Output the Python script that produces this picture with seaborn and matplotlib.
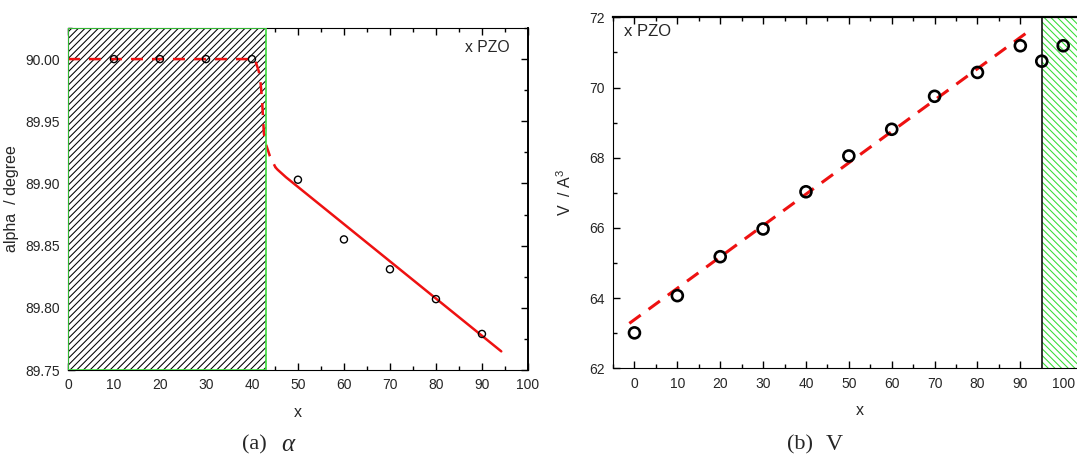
import numpy as np
import pandas as pd
import matplotlib
matplotlib.use("Agg")
import matplotlib.pyplot as plt
import seaborn as sns
from matplotlib.ticker import MultipleLocator

# (a) alpha vs x PZO
alpha_x = [10, 20, 30, 40, 50, 60, 70, 80, 90]
alpha_y = [90.000, 90.000, 90.000, 90.000, 89.903, 89.855, 89.831, 89.807, 89.779]
alpha_dash_x = [0, 40, 40.7, 41.5, 41.9, 42.2, 42.4, 42.6, 43.0, 43.9, 45.1]
alpha_dash_y = [90.000, 90.000, 89.999, 89.990, 89.980, 89.967, 89.953, 89.940, 89.932, 89.922, 89.913]
alpha_solid_x = [45.1, 45.6, 47.4, 94.2]
alpha_solid_y = [89.913, 89.911, 89.905, 89.765]
alpha_hatch = (0, 43)

# (b) V vs x PZO
vol_x = [0, 10, 20, 30, 40, 50, 60, 70, 80, 90, 95, 100]
vol_y = [63.01, 64.07, 65.18, 65.97, 67.03, 68.05, 68.81, 69.75, 70.43, 71.19, 70.75, 71.19]
vol_fit_x = [-1.2, 92.7]
vol_fit_y = [63.28, 71.67]
vol_hatch = (95, 110)

sns.set_style("ticks")
plt.rcParams['font.family'] = ['Liberation Sans', 'DejaVu Sans']
plt.rcParams['mathtext.fontset'] = 'custom'
plt.rcParams['mathtext.rm'] = 'Liberation Sans'
plt.rcParams['hatch.linewidth'] = 0.75

fig = plt.figure(figsize=(10.77, 4.62), dpi=100)
ax1 = fig.add_axes([0.0631, 0.1991, 0.4271, 0.7403])
ax2 = fig.add_axes([0.5692, 0.2028, 0.4578, 0.7597])

# ---- panel (a)
ax1.axvspan(*alpha_hatch, facecolor='white', edgecolor='black', hatch='/////', lw=0, zorder=1)
ax1.axvspan(*alpha_hatch, facecolor='none', edgecolor='#3ddc3d', lw=1.2, zorder=3)

sns.lineplot(x=alpha_dash_x, y=alpha_dash_y, ax=ax1, color='#ee1111', lw=1.8, sort=False)
ax1.lines[-1].set_dashes((4.8, 3.6))
sns.lineplot(x=alpha_solid_x, y=alpha_solid_y, ax=ax1, color='#ee1111', lw=1.8, sort=False)
sns.scatterplot(x=alpha_x, y=alpha_y, ax=ax1, marker='o', s=26, facecolor='none',
                edgecolor='black', linewidth=1.0, zorder=4)

ax1.set_xlim(0, 100)
ax1.set_ylim(89.75, 90.025)
ax1.xaxis.set_major_locator(MultipleLocator(10))
ax1.xaxis.set_minor_locator(MultipleLocator(5))
ax1.yaxis.set_minor_locator(MultipleLocator(0.025))
ax1.set_yticks([89.75, 89.80, 89.85, 89.90, 89.95, 90.00])
ax1.set_yticklabels(['89.75', '89.80', '89.85', '89.90', '89.95', '90.00'])
ax1.set_xlabel('x', fontsize=11.5, labelpad=9)
ax1.set_ylabel('alpha  / degree', fontsize=11.5, labelpad=4)
ax1.text(0.961, 0.942, 'x PZO', transform=ax1.transAxes, ha='right', va='center', fontsize=11.3)
ax1.spines['right'].set_linewidth(1.4)

# ---- panel (b)
ax2.axvspan(*vol_hatch, facecolor='white', edgecolor='#33dd33', hatch='\\\\\\\\\\', lw=0, zorder=1)
ax2.axvline(vol_hatch[0], color='black', lw=1.1, zorder=2)

sns.lineplot(x=vol_fit_x, y=vol_fit_y, ax=ax2, color='#ee1111', lw=2.2, sort=False)
ax2.lines[-1].set_dashes((4.6, 3.2))
sns.scatterplot(x=vol_x, y=vol_y, ax=ax2, marker='o', s=62, facecolor='none',
                edgecolor='black', linewidth=1.9, zorder=4)

ax2.set_xlim(-5, 110)
ax2.set_ylim(62, 72)
ax2.set_xticks([0, 10, 20, 30, 40, 50, 60, 70, 80, 90, 100])
ax2.xaxis.set_minor_locator(MultipleLocator(5))
ax2.yaxis.set_major_locator(MultipleLocator(2))
ax2.yaxis.set_minor_locator(MultipleLocator(1))
ax2.set_xlabel('x', fontsize=11.5, labelpad=9)
ax2.set_ylabel('V  / A$^3$', fontsize=11.5, labelpad=11)
ax2.text(0.022, 0.959, 'x PZO', transform=ax2.transAxes, ha='left', va='center', fontsize=12)
ax2.spines['top'].set_linewidth(1.6)

for ax in (ax1, ax2):
    ax.tick_params(which='both', direction='in', top=True, right=True, labelsize=10, pad=6,
                   width=1.0, color='black')
    ax.tick_params(which='major', length=5)
    ax.tick_params(which='minor', length=3)
    for s in ax.spines.values():
        s.set_color('black')

serif = ['Liberation Serif', 'DejaVu Serif']
fig.text(254 / 1077, 1 - 445 / 462, '(a)', ha='center', va='center', fontsize=16, family=serif)
fig.text(287.5 / 1077, 1 - 445 / 462, 'α', ha='center', va='center', fontsize=18,
         family=serif, style='italic')
fig.text(800 / 1077, 1 - 445 / 462, '(b)', ha='center', va='center', fontsize=16, family=serif)
fig.text(834 / 1077, 1 - 445 / 462, 'V', ha='center', va='center', fontsize=17, family=serif)

plt.savefig("out.png", dpi=100)
